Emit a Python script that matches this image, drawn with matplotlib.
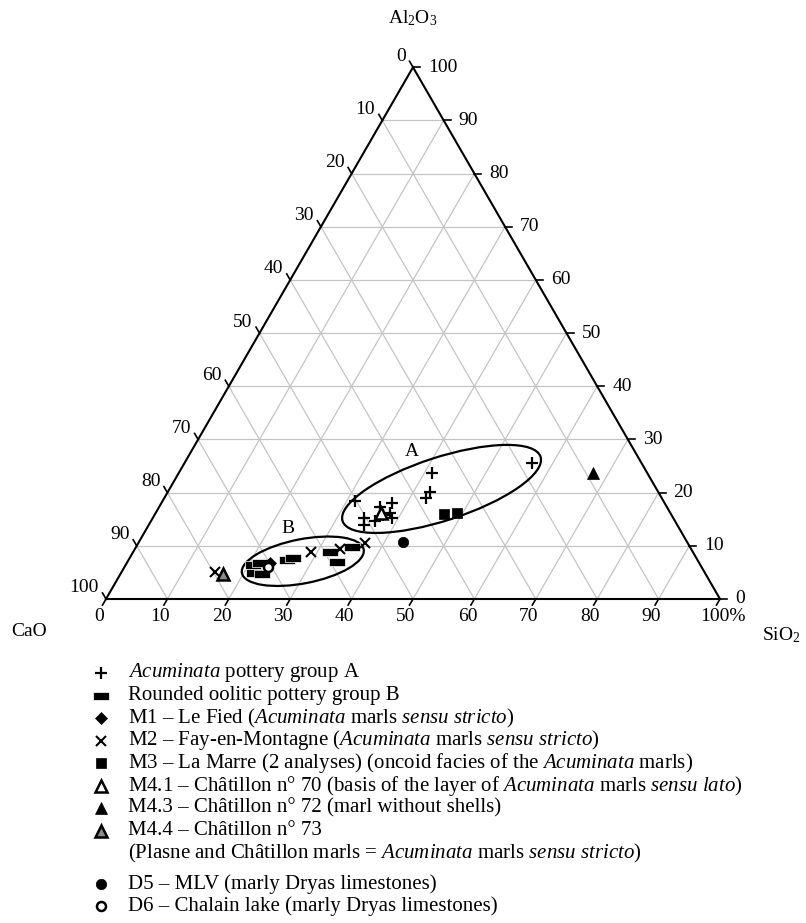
import matplotlib
matplotlib.use("Agg")
import matplotlib.pyplot as plt
from matplotlib.patches import Ellipse
import numpy as np

plt.rcParams['font.family'] = ['Liberation Serif', 'DejaVu Serif']
plt.rcParams['mathtext.fontset'] = 'custom'
plt.rcParams['mathtext.rm'] = 'Liberation Serif'
plt.rcParams['mathtext.it'] = 'Liberation Serif:italic'
plt.rcParams['mathtext.bf'] = 'Liberation Serif:bold'

# ---------------- data: compositions in % (SiO2, Al2O3, CaO) ----------------
group_a_sio2 = [31.4, 34.4, 35.0, 36.5, 36.0, 37.6, 37.2, 39.0, 38.2, 41.2, 42.7, 42.6, 56.6]
group_a_al2o3 = [18.4, 15.2, 13.9, 14.7, 17.3, 18.0, 15.8, 15.2, 16.2, 23.7, 20.1, 19.0, 25.6]
group_a_cao = [50.2, 50.4, 51.1, 48.8, 46.7, 44.4, 47.0, 45.8, 45.6, 35.1, 37.2, 38.4, 17.8]

group_b_sio2 = [20.7, 21.7, 21.7, 23.1, 25.8, 26.6, 32.1, 35.2, 34.1]
group_b_al2o3 = [6.4, 6.8, 4.9, 4.7, 7.3, 7.7, 8.8, 9.8, 7.0]
group_b_cao = [72.9, 71.5, 73.4, 72.2, 66.9, 65.7, 59.1, 55.0, 58.9]

m1_sio2, m1_al2o3, m1_cao = [23.3], [6.8], [69.9]
m2_sio2 = [15.2, 29.0, 33.4, 36.9]
m2_al2o3 = [5.1, 8.8, 9.4, 10.5]
m2_cao = [79.7, 62.2, 57.2, 52.6]
m3_sio2 = [47.0, 49.1]
m3_al2o3 = [16.0, 16.2]
m3_cao = [37.0, 34.7]
m41_sio2, m41_al2o3, m41_cao = [36.7], [16.2], [47.1]
m43_sio2, m43_al2o3, m43_cao = [67.5], [23.7], [8.8]
m44_sio2, m44_al2o3, m44_cao = [16.7], [4.7], [78.6]
d5_sio2, d5_al2o3, d5_cao = [43.0], [10.7], [46.3]
d6_sio2, d6_al2o3, d6_cao = [23.4], [6.0], [70.6]

tick_values = list(range(0, 101, 10))

legend_labels = [
    r"$\mathit{Acuminata}$ pottery group A",
    "Rounded oolitic pottery group B",
    r"M1 – Le Fied ($\mathit{Acuminata}$ marls $\mathit{sensu\ stricto}$)",
    r"M2 – Fay-en-Montagne ($\mathit{Acuminata}$ marls $\mathit{sensu\ stricto}$)",
    r"M3 – La Marre (2 analyses) (oncoid facies of the $\mathit{Acuminata}$ marls)",
    r"M4.1 – Châtillon n° 70 (basis of the layer of $\mathit{Acuminata}$ marls $\mathit{sensu\ lato}$)",
    "M4.3 – Châtillon n° 72 (marl without shells)",
    "M4.4 – Châtillon n° 73",
    "D5 – MLV (marly Dryas limestones)",
    "D6 – Chalain lake (marly Dryas limestones)",
]
legend_second_line = r"(Plasne and Châtillon marls = $\mathit{Acuminata}$ marls $\mathit{sensu\ stricto}$)"

H = np.sqrt(3) / 2


def tern(sio2, al2o3, cao):
    s = np.asarray(sio2, float)
    a = np.asarray(al2o3, float)
    c = np.asarray(cao, float)
    tot = s + a + c
    s, a = s / tot, a / tot
    return s + a / 2, a * H


W, HT = 806, 923
fig = plt.figure(figsize=(W / 100, HT / 100), dpi=100)
fig.patch.set_facecolor('white')

# triangle axes: bottom-left at (106,599) px, side 614 px
L0, B0, SIDE = 106, 599, 614
ax = fig.add_axes([L0 / W, (HT - B0) / HT, SIDE / W, SIDE * H / HT])
ax.set_xlim(0, 1)
ax.set_ylim(0, H)
ax.set_aspect('equal')
ax.axis('off')
px = 1 / SIDE

# grid
grid_kw = dict(color='#c4c4c4', lw=0.9, zorder=1)
for k in range(1, 10):
    f = k / 10
    ax.plot([f / 2, 1 - f / 2], [f * H, f * H], **grid_kw)
    ax.plot([f, f + (1 - f) / 2], [0, (1 - f) * H], **grid_kw)
    ax.plot([1 - f, (1 - f) / 2], [0, (1 - f) * H], **grid_kw)

# frame
ax.plot([0, 1, 0.5, 0], [0, 0, H, 0], color='black', lw=1.5, zorder=3,
        solid_joinstyle='miter', clip_on=False)

fs = 14
tl = 7 * px
for v in tick_values:
    f = v / 100
    x0 = f
    ax.plot([x0, x0 - 0.5 * tl], [0, -H * tl], color='black', lw=1.2, clip_on=False)
    if v == 100:
        ax.text(x0 - 20 * px, -18 * px, f"{v}%", ha='left', va='center', fontsize=fs)
    else:
        ax.text(x0 - 7 * px, -18 * px, f"{v}", ha='center', va='center', fontsize=fs)
    xr, yr = 1 - f / 2, f * H
    ax.plot([xr, xr + tl], [yr, yr], color='black', lw=1.2, clip_on=False)
    ax.text(xr + 15 * px, yr, f"{v}", ha='left', va='center', fontsize=fs)
    xl, yl = (1 - f) / 2, (1 - f) * H
    ax.plot([xl, xl - 0.5 * tl], [yl, yl + H * tl], color='black', lw=1.2, clip_on=False)
    ax.text(xl - 7 * px, yl + 11 * px, f"{v}", ha='right', va='center', fontsize=fs)

# axis titles
ax.text(0.5, (B0 - 18) * px, r"Al$_2$O$_3$", ha='center', va='center', fontsize=fs)
ax.text((29 - L0) * px, (B0 - 632) * px, "CaO", ha='center', va='center', fontsize=fs)
ax.text((781 - L0) * px, (B0 - 635) * px, r"SiO$_2$", ha='center', va='center', fontsize=fs)

# ellipses
ecx, ecy = tern([44.3], [20.7], [35.0])
ax.add_patch(Ellipse((ecx[0], ecy[0]), 0.339, 0.103, angle=18, fill=False,
                     ec='black', lw=1.6, zorder=4))
ecx, ecy = tern([28.5], [7.1], [64.4])
ax.add_patch(Ellipse((ecx[0], ecy[0]), 0.202, 0.072, angle=11, fill=False,
                     ec='black', lw=1.6, zorder=4))
ax.text((412 - L0) * px, (B0 - 452) * px, "A", ha='center', va='center', fontsize=fs)
ax.text((288 - L0) * px, (B0 - 529) * px, "B", ha='center', va='center', fontsize=fs)

rect_marker = [(-1, -0.5), (1, -0.5), (1, 0.5), (-1, 0.5), (-1, -0.5)]

styles = [
    dict(marker='+', ms=8.5, mew=1.6, color='black', mfc='black', mec='black'),
    dict(marker=rect_marker, ms=11, mew=0.5, mfc='black', mec='white'),
    dict(marker='D', ms=6.5, mew=0.5, mfc='black', mec='black'),
    dict(marker='x', ms=6.5, mew=1.5, mfc='black', mec='black'),
    dict(marker='s', ms=6.5, mew=0.5, mfc='black', mec='black'),
    dict(marker='^', ms=8, mew=1.8, mfc='white', mec='black'),
    dict(marker='^', ms=9, mew=0.5, mfc='black', mec='black'),
    dict(marker='^', ms=8, mew=1.8, mfc='#8a8a8a', mec='black'),
    dict(marker='o', ms=7.5, mew=0.5, mfc='black', mec='black'),
    dict(marker='o', ms=6.5, mew=1.8, mfc='white', mec='black'),
]

series = [
    (group_a_sio2, group_a_al2o3, group_a_cao),
    (group_b_sio2, group_b_al2o3, group_b_cao),
    (m1_sio2, m1_al2o3, m1_cao),
    (m2_sio2, m2_al2o3, m2_cao),
    (m3_sio2, m3_al2o3, m3_cao),
    (m41_sio2, m41_al2o3, m41_cao),
    (m43_sio2, m43_al2o3, m43_cao),
    (m44_sio2, m44_al2o3, m44_cao),
    (d5_sio2, d5_al2o3, d5_cao),
    (d6_sio2, d6_al2o3, d6_cao),
]
order = [1, 2, 9, 3, 4, 0, 5, 6, 7, 8]
for i in order:
    s, a, c = series[i]
    xs, ys = tern(s, a, c)
    ax.plot(xs, ys, ls='none', zorder=5 + i * 0.1, clip_on=False, **styles[i])

# legend in pixel space
lax = fig.add_axes([0, 0, 1, 1])
lax.set_xlim(0, W)
lax.set_ylim(HT, 0)
lax.axis('off')
lfs = 15
rows = [673, 695.5, 718, 740.5, 763, 785.5, 808, 830.5, 884, 906]
mx, tx = 101, 128
for i, (lab, y) in enumerate(zip(legend_labels, rows)):
    lax.plot([mx], [y], ls='none', **styles[i])
    lax.text(tx, y, lab, ha='left', va='center', fontsize=lfs)
lax.text(tx, 853, legend_second_line, ha='left', va='center', fontsize=lfs)

fig.savefig('out.png', dpi=100, facecolor='white')
